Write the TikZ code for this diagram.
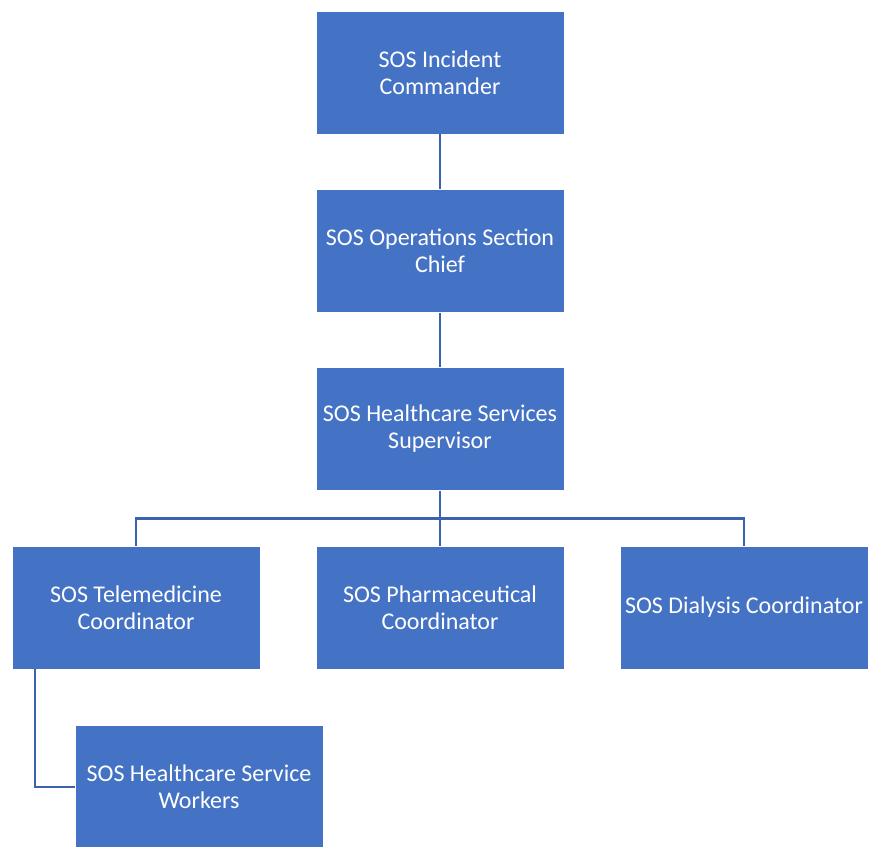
\documentclass[tikz,border=0pt]{standalone}
\usepackage{fontspec}
\setmainfont{Carlito}
\definecolor{boxblue}{HTML}{4472C4}
\definecolor{lineblue}{HTML}{3A62AE}

\begin{document}
\begin{tikzpicture}[x=1pt, y=-1pt,
		b/.style = {rectangle, draw=white, line width=0.6pt, fill=boxblue, text=white, minimum width=248, minimum height=123, align=center, inner sep=0pt, font=\fontsize{24}{27}\selectfont},
		link/.style = {draw=lineblue, line width=2.5pt}
		]
		\useasboundingbox (0, 0) rectangle (870, 846);
		\clip (0, 0) rectangle (870, 846);

		%Nodes
		\node[b]	(cmd)		at	(440, 72.5)		{SOS Incident\\Commander};
		\node[b]	(ops)		at	(440, 251)		{SOS Operations Section\\Chief};
		\node[b]	(sup)		at	(440, 429)		{SOS Healthcare Services\\Supervisor};
		\node[b]	(tele)		at	(136, 607.5)	{SOS Telemedicine\\Coordinator};
		\node[b]	(pharm)		at	(440, 607.5)	{SOS Pharmaceutical\\Coordinator};
		\node[b]	(dial)		at	(744, 607.5)	{SOS Dialysis Coordinator};
		\node[b]	(workers)	at	(199, 787)		{SOS Healthcare Service\\Workers};
		\coordinate	(bar)		at	(440, 518.5);

		%Lines
		\draw[link]	(cmd.south)		--	(ops.north);
		\draw[link]	(ops.south)		--	(sup.north);
		\draw[link]	(sup.south)		--	(pharm.north);
		\draw[link]	(tele.north)	|-	(bar)	-|	(dial.north);
		\draw[link]	([xshift=-101pt]tele.south)	|-	(workers.west);
	\end{tikzpicture}
\end{document}
